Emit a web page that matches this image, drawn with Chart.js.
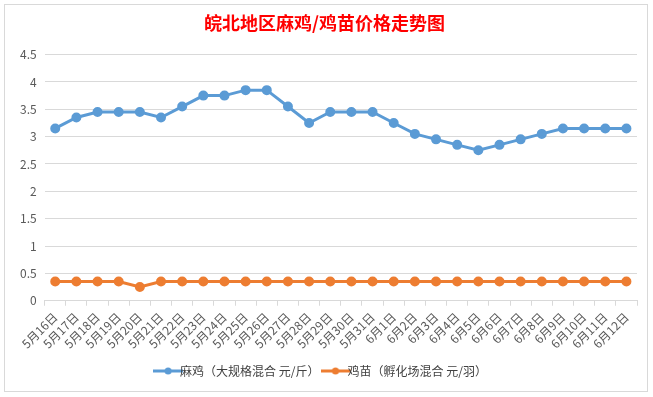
<!DOCTYPE html>
<html>
<head>
<meta charset="utf-8">
<script src="https://cdn.jsdelivr.net/npm/chart.js@4"></script>
<style>
  html, body { margin: 0; padding: 0; background: #ffffff; }
  #wrap { width: 653px; height: 397px; position: relative; }
</style>
</head>
<body>
<div id="wrap"><canvas id="myChart" width="653" height="397"></canvas></div>
<script>
const labels = ['5月16日', '5月17日', '5月18日', '5月19日', '5月20日', '5月21日', '5月22日',
    '5月23日', '5月24日', '5月25日', '5月26日', '5月27日', '5月28日', '5月29日', '5月30日',
    '5月31日', '6月1日', '6月2日', '6月3日', '6月4日', '6月5日', '6月6日', '6月7日',
    '6月8日', '6月9日', '6月10日', '6月11日', '6月12日'];

const maji = [3.15, 3.35, 3.45, 3.45, 3.45, 3.35, 3.55, 3.75, 3.75, 3.85, 3.85, 3.55, 3.25, 3.45,
    3.45, 3.45, 3.25, 3.05, 2.95, 2.85, 2.75, 2.85, 2.95, 3.05, 3.15, 3.15, 3.15, 3.15];

const jimiao = [0.35, 0.35, 0.35, 0.35, 0.25, 0.35, 0.35, 0.35, 0.35, 0.35, 0.35, 0.35, 0.35, 0.35,
    0.35, 0.35, 0.35, 0.35, 0.35, 0.35, 0.35, 0.35, 0.35, 0.35, 0.35, 0.35, 0.35, 0.35];

const seriesNames = ['麻鸡（大规格混合 元/斤）', '鸡苗（孵化场混合 元/羽）'];
const blue = '#5b9bd5';
const orange = '#ed7d31';

// small "line + dot" marker for the legend
function legendMark(color) {
    const c = document.createElement('canvas');
    c.width = 30;
    c.height = 10;
    const ctx = c.getContext('2d');
    ctx.strokeStyle = color;
    ctx.lineWidth = 3;
    ctx.beginPath();
    ctx.moveTo(0, 5);
    ctx.lineTo(30, 5);
    ctx.stroke();
    ctx.fillStyle = color;
    ctx.beginPath();
    ctx.arc(15, 5, 3.5, 0, Math.PI * 2);
    ctx.fill();
    return c;
}

const frame = {
    id: 'frame',
    beforeDraw(chart) {
        const ctx = chart.ctx;
        ctx.save();
        ctx.fillStyle = '#ffffff';
        ctx.fillRect(0, 0, chart.width, chart.height);
        ctx.strokeStyle = '#d9d9d9';
        ctx.lineWidth = 1;
        ctx.strokeRect(4.5, 4.5, chart.width - 10, chart.height - 10);
        ctx.restore();
    }
};

const font = "'Noto Sans CJK SC', 'Noto Sans', sans-serif";

const data = {
    labels: labels,
    datasets: [{
        label: seriesNames[0],
        data: maji,
        borderColor: blue,
        backgroundColor: blue,
        borderWidth: 3,
        pointRadius: 3.5,
        pointHoverRadius: 3.5,
        tension: 0
    }, {
        label: seriesNames[1],
        data: jimiao,
        borderColor: orange,
        backgroundColor: orange,
        borderWidth: 3,
        pointRadius: 3.5,
        pointHoverRadius: 3.5,
        tension: 0
    }]
};

const config = {
    type: 'line',
    data: data,
    plugins: [frame],
    options: {
        responsive: false,
        animation: false,
        layout: { padding: { left: 12, right: 16, top: 4, bottom: 10 } },
        plugins: {
            title: {
                display: true,
                text: '皖北地区麻鸡/鸡苗价格走势图',
                color: '#ff0000',
                font: { family: font, size: 18, weight: 'bold' },
                padding: { top: 8, bottom: 21 }
            },
            legend: {
                display: true,
                position: 'bottom',
                labels: {
                    color: '#404040',
                    font: { family: font, size: 12 },
                    usePointStyle: true,
                    padding: 10,
                    generateLabels(chart) {
                        const items = Chart.defaults.plugins.legend.labels.generateLabels(chart);
                        items.forEach(function (item, i) {
                            item.pointStyle = legendMark(i === 0 ? blue : orange);
                        });
                        return items;
                    }
                }
            },
            tooltip: { enabled: false }
        },
        scales: {
            y: {
                min: 0,
                max: 4.5,
                ticks: {
                    stepSize: 0.5,
                    color: '#595959',
                    font: { family: font, size: 12 },
                    padding: 8,
                    callback: function (value) {
                        return String(Math.round(value * 10) / 10);
                    }
                },
                grid: { color: '#d9d9d9', drawTicks: false },
                border: { display: false }
            },
            x: {
                offset: true,
                ticks: {
                    minRotation: 45,
                    maxRotation: 45,
                    autoSkip: false,
                    color: '#595959',
                    font: { family: font, size: 12 },
                    padding: 4
                },
                grid: {
                    offset: true,
                    drawOnChartArea: false,
                    drawTicks: true,
                    tickLength: 5,
                    color: '#d9d9d9'
                },
                border: { display: true, color: '#d9d9d9' }
            }
        }
    }
};

const myChart = new Chart(document.getElementById('myChart'), config);
</script>
</body>
</html>
